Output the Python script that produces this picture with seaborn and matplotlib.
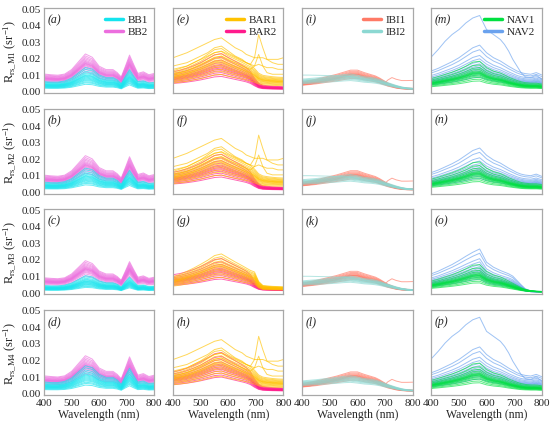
import numpy as np
import pandas as pd
import matplotlib.pyplot as plt
from matplotlib.lines import Line2D
import seaborn as sns

sns.set_style('white')
plt.rcParams['font.family'] = ['Liberation Serif', 'DejaVu Serif']
plt.rcParams['mathtext.fontset'] = 'custom'
plt.rcParams['mathtext.rm'] = 'Liberation Serif'
plt.rcParams['mathtext.it'] = 'Liberation Serif:italic'

WL = [400, 425, 450, 475, 500, 525, 550, 575, 600, 625,
      650, 665, 680, 695, 710, 725, 740, 760, 780, 800]

# median spectra per group (sr^-1)
BB1 = [0.0035, 0.0033, 0.0033, 0.0037, 0.0048, 0.0068, 0.0088, 0.0082, 0.0060, 0.0050,
       0.0050, 0.0042, 0.0027, 0.0055, 0.0080, 0.0056, 0.0035, 0.0038, 0.0030, 0.0032]
BB2 = [0.0075, 0.0072, 0.0070, 0.0075, 0.0095, 0.0130, 0.0165, 0.0150, 0.0110, 0.0095,
       0.0095, 0.0082, 0.0062, 0.0110, 0.0160, 0.0118, 0.0078, 0.0085, 0.0072, 0.0078]
BAR1 = [0.0085, 0.0095, 0.0105, 0.0120, 0.0135, 0.0155, 0.0175, 0.0180, 0.0160, 0.0145,
        0.0130, 0.0120, 0.0110, 0.0095, 0.0075, 0.0066, 0.0063, 0.0060, 0.0058, 0.0057]
BAR2 = [0.0075, 0.0080, 0.0088, 0.0098, 0.0110, 0.0125, 0.0140, 0.0145, 0.0130, 0.0115,
        0.0100, 0.0090, 0.0075, 0.0050, 0.0030, 0.0022, 0.0020, 0.0018, 0.0017, 0.0016]
IBI1 = [0.0045, 0.0050, 0.0056, 0.0064, 0.0072, 0.0080, 0.0090, 0.0100, 0.0100, 0.0088,
        0.0078, 0.0072, 0.0062, 0.0050, 0.0038, 0.0030, 0.0022, 0.0016, 0.0013, 0.0012]
IBI2 = [0.0060, 0.0063, 0.0066, 0.0070, 0.0074, 0.0078, 0.0083, 0.0086, 0.0080, 0.0072,
        0.0068, 0.0064, 0.0058, 0.0050, 0.0042, 0.0035, 0.0028, 0.0020, 0.0015, 0.0013]
NAV1 = [0.0045, 0.0052, 0.0060, 0.0068, 0.0078, 0.0090, 0.0105, 0.0108, 0.0085, 0.0072,
        0.0065, 0.0058, 0.0050, 0.0044, 0.0038, 0.0033, 0.0030, 0.0028, 0.0028, 0.0025]
NAV2 = [0.0060, 0.0068, 0.0078, 0.0088, 0.0100, 0.0115, 0.0130, 0.0138, 0.0115, 0.0100,
        0.0090, 0.0082, 0.0074, 0.0067, 0.0060, 0.0055, 0.0052, 0.0050, 0.0055, 0.0048]

# spectra that look different for the M3 row
BAR1_M3 = [0.0065, 0.0075, 0.0088, 0.0102, 0.0118, 0.0135, 0.0155, 0.0162, 0.0145, 0.0128,
           0.0112, 0.0102, 0.0092, 0.0085, 0.0045, 0.0028, 0.0026, 0.0024, 0.0023, 0.0022]
NAV1_M3 = [0.0040, 0.0047, 0.0055, 0.0063, 0.0073, 0.0085, 0.0098, 0.0100, 0.0075, 0.0062,
           0.0055, 0.0048, 0.0040, 0.0032, 0.0024, 0.0016, 0.0010, 0.0005, 0.0003, 0.0002]
NAV2_M3 = [0.0055, 0.0063, 0.0073, 0.0083, 0.0095, 0.0108, 0.0120, 0.0130, 0.0090, 0.0075,
           0.0065, 0.0060, 0.0055, 0.0048, 0.0035, 0.0022, 0.0010, 0.0003, 0.0002, 0.0002]

# relative level of each individual spectrum in a group
LEVELS = {
    'BB1': [0.45, 0.55, 0.62, 0.70, 0.76, 0.82, 0.88, 0.94, 1.00, 1.05, 1.10, 1.18, 1.25, 1.35, 1.48, 1.60],
    'BB2': [0.70, 0.78, 0.84, 0.88, 0.92, 0.95, 0.98, 1.00, 1.02, 1.05, 1.08, 1.12, 1.17, 1.22, 1.28, 1.35],
    'BAR1': [0.55, 0.65, 0.72, 0.80, 0.86, 0.92, 0.97, 1.00, 1.04, 1.10, 1.16, 1.24, 1.32, 1.42],
    'BAR2': [0.60, 0.68, 0.76, 0.84, 0.90, 0.95, 1.00, 1.05, 1.10, 1.18, 1.28, 1.40, 1.55],
    'IBI1': [0.75, 0.82, 0.88, 0.92, 0.96, 1.00, 1.03, 1.07, 1.12, 1.18, 1.25],
    'IBI2': [0.72, 0.80, 0.86, 0.90, 0.95, 1.00, 1.05, 1.10, 1.18],
    'NAV1': [0.55, 0.65, 0.75, 0.82, 0.88, 0.93, 0.97, 1.00, 1.03, 1.07, 1.12, 1.20, 1.30, 1.45, 1.65],
    'NAV2': [0.60, 0.70, 0.78, 0.85, 0.92, 0.98, 1.03, 1.10, 1.18, 1.28, 1.40, 1.55, 1.80, 2.00],
}

# overall level of each group in rows M1..M4
ROW_SCALE = {
    'BB1': [1.00, 1.00, 0.70, 1.15], 'BB2': [1.00, 0.97, 0.85, 1.00],
    'BAR1': [1.00, 1.00, 1.00, 1.00], 'BAR2': [1.00, 1.00, 0.90, 1.08],
    'IBI1': [1.00, 1.00, 1.00, 1.00], 'IBI2': [1.00, 1.00, 0.95, 1.00],
    'NAV1': [1.00, 1.00, 1.00, 1.00], 'NAV2': [1.00, 0.95, 1.00, 1.00],
}

# single odd spectra
BAR_TOP = [0.020, 0.0215, 0.023, 0.025, 0.027, 0.029, 0.031, 0.032, 0.029, 0.026,
           0.024, 0.022, 0.021, 0.020, 0.020, 0.020, 0.019, 0.019, 0.019, 0.020]
BAR_SPIKE = [0.013, 0.014, 0.015, 0.017, 0.019, 0.021, 0.023, 0.024, 0.022, 0.020,
             0.018, 0.017, 0.016, 0.020, 0.034, 0.026, 0.019, 0.017, 0.016, 0.016]
BAR_HIGH = [0.015, 0.016, 0.017, 0.019, 0.021, 0.023, 0.026, 0.027, 0.024, 0.021,
            0.019, 0.017, 0.016, 0.015, 0.016, 0.015, 0.014, 0.014, 0.013, 0.013]
BAR_MID = [0.010, 0.011, 0.012, 0.014, 0.016, 0.018, 0.020, 0.021, 0.019, 0.017,
           0.015, 0.014, 0.013, 0.015, 0.022, 0.015, 0.011, 0.010, 0.010, 0.010]
IBI1_BUMP = [0.0035, 0.0040, 0.0047, 0.0055, 0.0065, 0.0075, 0.0088, 0.0100, 0.0098, 0.0085,
             0.0072, 0.0062, 0.0050, 0.0040, 0.0065, 0.0080, 0.0070, 0.0062, 0.0062, 0.0063]
IBI2_FLAT = [0.0095, 0.0095, 0.0094, 0.0093, 0.0092, 0.0090, 0.0088, 0.0086, 0.0078, 0.0070,
             0.0065, 0.0060, 0.0055, 0.0047, 0.0040, 0.0033, 0.0027, 0.0020, 0.0016, 0.0014]
NAV2_TOP = [0.0205, 0.025, 0.030, 0.034, 0.037, 0.041, 0.044, 0.0455, 0.037, 0.034,
            0.031, 0.028, 0.024, 0.019, 0.015, 0.011, 0.0085, 0.008, 0.0095, 0.007]

SHAPES = {'BB1': BB1, 'BB2': BB2, 'BAR1': BAR1, 'BAR2': BAR2,
          'IBI1': IBI1, 'IBI2': IBI2, 'NAV1': NAV1, 'NAV2': NAV2}
SPECIAL = {('BAR1', 2): BAR1_M3, ('NAV1', 2): NAV1_M3, ('NAV2', 2): NAV2_M3}
OUTLIERS = {
    (0, 1): [('BAR1', BAR_TOP), ('BAR1', BAR_SPIKE), ('BAR1', BAR_HIGH), ('BAR1', BAR_MID)],
    (1, 1): [('BAR1', BAR_TOP), ('BAR1', BAR_SPIKE), ('BAR1', BAR_HIGH), ('BAR1', BAR_MID)],
    (3, 1): [('BAR1', BAR_TOP), ('BAR1', BAR_SPIKE), ('BAR1', BAR_HIGH), ('BAR1', BAR_MID)],
    (0, 2): [('IBI1', IBI1_BUMP), ('IBI2', IBI2_FLAT)],
    (1, 2): [('IBI1', IBI1_BUMP), ('IBI2', IBI2_FLAT)],
    (2, 2): [('IBI1', IBI1_BUMP), ('IBI2', IBI2_FLAT)],
    (3, 2): [('IBI1', IBI1_BUMP)],
    (0, 3): [('NAV2', NAV2_TOP)],
    (3, 3): [('NAV2', NAV2_TOP)],
}

COLUMNS = [('BB1', 'BB2'), ('BAR1', 'BAR2'), ('IBI1', 'IBI2'), ('NAV1', 'NAV2')]
# which group ends up on top in each column of the original
DRAW_ORDER = [('BB2', 'BB1'), ('BAR2', 'BAR1'), ('IBI1', 'IBI2'), ('NAV2', 'NAV1')]
PALETTE = {'BB1': '#14e4ee', 'BB2': '#ec6ede', 'BAR1': '#ffc200', 'BAR2': '#ff1a8c',
           'IBI1': '#ff7a66', 'IBI2': '#8cd8d2', 'NAV1': '#00e040', 'NAV2': '#6aa2ee'}
PANEL_TAGS = ['(a)', '(e)', '(i)', '(m)', '(b)', '(f)', '(j)', '(n)',
              '(c)', '(g)', '(k)', '(o)', '(d)', '(h)', '(l)', '(p)']
ROW_NAMES = ['M1', 'M2', 'M3', 'M4']


def panel_frame(row, col):
    parts = []
    for g in COLUMNS[col]:
        shape = np.array(SPECIAL.get((g, row), SHAPES[g]))
        for i, lv in enumerate(LEVELS[g]):
            parts.append(pd.DataFrame({'wl': WL, 'r': shape * lv * ROW_SCALE[g][row],
                                       'group': g, 'curve': f'{g}_{i}'}))
    for j, (g, vals) in enumerate(OUTLIERS.get((row, col), [])):
        parts.append(pd.DataFrame({'wl': WL, 'r': vals, 'group': g, 'curve': f'out_{j}'}))
    return pd.concat(parts, ignore_index=True)


fig, axes = plt.subplots(4, 4, figsize=(5.5, 4.31), dpi=100)
fig.subplots_adjust(left=0.08, right=0.985, top=0.979, bottom=0.081, wspace=0.17, hspace=0.18)

for row in range(4):
    for col in range(4):
        ax = axes[row, col]
        df = panel_frame(row, col)
        sns.lineplot(data=df, x='wl', y='r', hue='group', units='curve', estimator=None,
                     hue_order=list(DRAW_ORDER[col]), palette=PALETTE, lw=0.7, alpha=0.65,
                     legend=False, sort=False, ax=ax)
        ax.set_xlim(400, 800)
        ax.set_ylim(-0.0015, 0.05)
        ax.set_xticks([400, 500, 600, 700, 800])
        ax.set_yticks([0, 0.01, 0.02, 0.03, 0.04, 0.05])
        ax.tick_params(direction='in', length=2, width=0.6, color='#b0b0b0',
                       labelsize=8, pad=2)
        for s in ax.spines.values():
            s.set_color('#a8a8a8')
            s.set_linewidth(0.9)
        ax.set_xlabel('')
        ax.set_ylabel('')
        if col == 0:
            ax.set_yticklabels([f'{v:.2f}' for v in ax.get_yticks()])
            ax.set_ylabel(r'R$_{\mathrm{rs\_' + ROW_NAMES[row] + r'}}$ (sr$^{\mathrm{-1}}$)',
                          fontsize=9, labelpad=3)
        else:
            ax.set_yticklabels([])
        if row == 3:
            ax.set_xlabel('Wavelength (nm)', fontsize=8.5, labelpad=1)
        else:
            ax.set_xticklabels([])
        ax.text(0.03, 0.94, PANEL_TAGS[row * 4 + col], transform=ax.transAxes,
                fontsize=8.5, style='italic', va='top', ha='left')
        if row == 0:
            handles = [Line2D([0], [0], color=PALETTE[g], lw=2.5) for g in COLUMNS[col]]
            ax.legend(handles, list(COLUMNS[col]), loc='upper right', frameon=False,
                      fontsize=8, handlelength=1.6, handletextpad=0.4, labelspacing=0.2,
                      borderaxespad=0.2)

fig.savefig('out.png', dpi=100)
